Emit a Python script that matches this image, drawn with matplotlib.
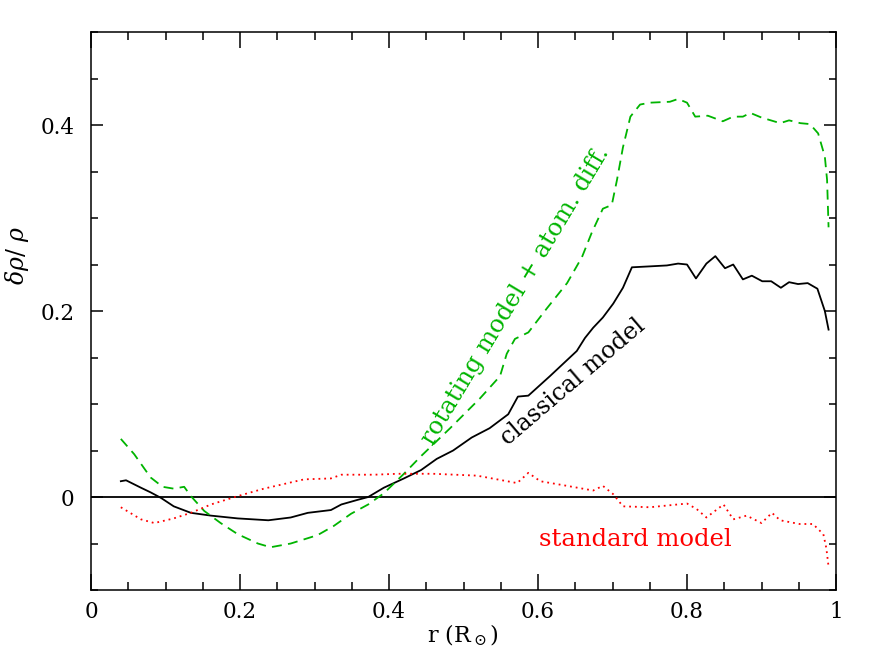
import matplotlib
matplotlib.use("Agg")
import matplotlib.pyplot as plt
from matplotlib.ticker import MultipleLocator, FuncFormatter

# data
r_class = [0.040, 0.047, 0.067, 0.080, 0.094, 0.111, 0.134, 0.161, 0.197, 0.238,
           0.268, 0.291, 0.322, 0.336, 0.358, 0.372, 0.393, 0.420, 0.443, 0.464,
           0.486, 0.511, 0.535, 0.560, 0.573, 0.587, 0.616, 0.652, 0.663, 0.674,
           0.687, 0.701, 0.714, 0.726, 0.750, 0.773, 0.788, 0.800, 0.812, 0.826,
           0.838, 0.851, 0.862, 0.875, 0.887, 0.901, 0.913, 0.926, 0.937, 0.949,
           0.962, 0.975, 0.985, 0.990]
d_class = [0.017, 0.018, 0.010, 0.005, -0.001, -0.010, -0.017, -0.020, -0.023, -0.025,
           -0.022, -0.017, -0.014, -0.008, -0.003, 0.000, 0.010, 0.020, 0.029, 0.041,
           0.050, 0.064, 0.074, 0.089, 0.108, 0.109, 0.130, 0.157, 0.171, 0.182,
           0.193, 0.208, 0.225, 0.247, 0.248, 0.249, 0.251, 0.250, 0.235, 0.251,
           0.259, 0.246, 0.250, 0.234, 0.238, 0.232, 0.232, 0.225, 0.231, 0.229,
           0.230, 0.224, 0.200, 0.180]

r_rot = [0.040, 0.058, 0.080, 0.096, 0.111, 0.125, 0.134, 0.152, 0.174, 0.197,
         0.224, 0.241, 0.268, 0.304, 0.326, 0.349, 0.372, 0.393, 0.420, 0.443,
         0.482, 0.522, 0.549, 0.558, 0.569, 0.587, 0.612, 0.639, 0.659, 0.672,
         0.687, 0.699, 0.706, 0.714, 0.724, 0.737, 0.750, 0.777, 0.788, 0.800,
         0.811, 0.828, 0.848, 0.862, 0.875, 0.885, 0.900, 0.925, 0.937, 0.952,
         0.965, 0.976, 0.985, 0.988, 0.990]
d_rot = [0.0625, 0.046, 0.021, 0.011, 0.009, 0.011, 0.001, -0.015, -0.028, -0.040,
         -0.050, -0.054, -0.050, -0.041, -0.031, -0.018, -0.008, 0.004, 0.025, 0.044,
         0.074, 0.106, 0.130, 0.154, 0.170, 0.177, 0.203, 0.230, 0.258, 0.284,
         0.310, 0.314, 0.341, 0.376, 0.409, 0.422, 0.424, 0.425, 0.428, 0.424,
         0.409, 0.410, 0.404, 0.409, 0.409, 0.413, 0.408, 0.402, 0.405, 0.402,
         0.401, 0.391, 0.366, 0.341, 0.290]

r_std = [0.040, 0.067, 0.085, 0.111, 0.134, 0.161, 0.197, 0.232, 0.259, 0.286,
         0.322, 0.336, 0.380, 0.412, 0.459, 0.518, 0.572, 0.587, 0.603, 0.639,
         0.674, 0.687, 0.701, 0.714, 0.750, 0.800, 0.813, 0.826, 0.849, 0.862,
         0.880, 0.900, 0.914, 0.925, 0.951, 0.969, 0.983, 0.987, 0.990]
d_std = [-0.011, -0.024, -0.028, -0.023, -0.017, -0.008, 0.001, 0.009, 0.014, 0.019,
         0.020, 0.024, 0.024, 0.025, 0.025, 0.023, 0.015, 0.026, 0.017, 0.012,
         0.007, 0.012, 0.003, -0.010, -0.011, -0.007, -0.013, -0.022, -0.008, -0.024,
         -0.020, -0.028, -0.017, -0.025, -0.029, -0.029, -0.040, -0.055, -0.075]

green = '#00b400'
plt.rcParams['font.family'] = 'DejaVu Serif'
plt.rcParams['mathtext.fontset'] = 'dejavuserif'

fig = plt.figure(figsize=(8.89, 6.64), dpi=100)
ax = fig.add_axes([0.1024, 0.1114, 0.8380, 0.8404])

ax.axhline(0, color='black', lw=1.3)
ax.plot(r_class, d_class, color='black', lw=1.3)
ax.plot(r_rot, d_rot, color=green, lw=1.3, dashes=(5.5, 3.5))
ax.plot(r_std, d_std, color='red', lw=1.3, linestyle=(0, (1, 2.2)))

ax.text(0.570, 0.216, 'rotating model + atom. diff.', color=green, fontsize=17.5,
        rotation=59, rotation_mode='anchor', ha='center', va='center')
ax.text(0.647, 0.124, 'classical model', color='black', fontsize=17,
        rotation=40.5, rotation_mode='anchor', ha='center', va='center')
ax.text(0.731, -0.053, 'standard model', color='red', fontsize=17.5,
        ha='center', va='baseline')

ax.set_xlim(0, 1)
ax.set_ylim(-0.1, 0.5)
ax.xaxis.set_major_locator(MultipleLocator(0.2))
ax.xaxis.set_minor_locator(MultipleLocator(0.05))
ax.yaxis.set_major_locator(MultipleLocator(0.2))
ax.yaxis.set_minor_locator(MultipleLocator(0.05))
fmt = FuncFormatter(lambda v, p: '%g' % round(v, 3))
ax.xaxis.set_major_formatter(fmt)
ax.yaxis.set_major_formatter(fmt)
ax.tick_params(axis='both', which='both', direction='in', top=True, right=True,
               width=1.1, labelsize=15.5)
ax.tick_params(axis='x', which='major', length=11.5, pad=8)
ax.tick_params(axis='x', which='minor', length=5.8)
ax.tick_params(axis='y', which='major', length=8.6, pad=12)
ax.tick_params(axis='y', which='minor', length=5)
for s in ax.spines.values():
    s.set_linewidth(1.1)

ax.set_xlabel(r'r (R$_\odot$)', fontsize=16)
ax.set_ylabel(r'$\delta\rho$/ $\rho$', fontsize=17)
ax.xaxis.set_label_coords(0.499, -0.059)
ax.yaxis.set_label_coords(-0.080, 0.60)

fig.savefig('out.png', dpi=100)
